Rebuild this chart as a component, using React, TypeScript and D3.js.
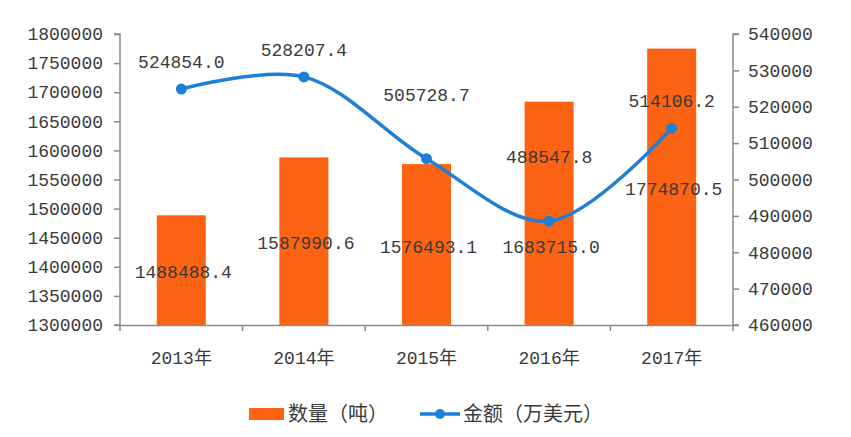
import React, { useRef, useEffect } from 'react';
import * as d3 from 'd3';

const years = ['2013年', '2014年', '2015年', '2016年', '2017年'];
const quantity = [1488488.4, 1587990.6, 1576493.1, 1683715.0, 1774870.5];
const amount = [524854.0, 528207.4, 505728.7, 488547.8, 514106.2];
const leftTicks = [1300000, 1350000, 1400000, 1450000, 1500000, 1550000, 1600000, 1650000, 1700000, 1750000, 1800000];
const rightTicks = [460000, 470000, 480000, 490000, 500000, 510000, 520000, 530000, 540000];

const W = 851;
const H = 437;
const margin = { top: 34, right: 118, bottom: 112, left: 120 };
const ORANGE = '#fc6414';
const BLUE = '#1e7fd6';
const AXIS = '#8a8a8a';
const TEXT = '#3a3a3a';
const FONT = "'Liberation Mono', 'Noto Sans CJK SC', monospace";
const CJK = "'Noto Sans CJK SC', sans-serif";

const App = () => {
  const svgRef = useRef<SVGSVGElement>(null);

  useEffect(() => {
    if (!svgRef.current) return;
    const svg = d3.select(svgRef.current);
    svg.selectAll('*').remove();

    const x0 = margin.left;
    const x1 = W - margin.right;
    const y0 = H - margin.bottom;
    const y1 = margin.top;

    const x = d3.scaleBand().domain(years).range([x0, x1]).paddingInner(0).paddingOuter(0);
    const yL = d3.scaleLinear().domain([1300000, 1800000]).range([y0, y1]);
    const yR = d3.scaleLinear().domain([460000, 540000]).range([y0, y1]);
    const cx = (i: number) => x(years[i])! + x.bandwidth() / 2;

    const g = svg.append('g');

    // bars
    const barW = x.bandwidth() * 0.4;
    g.selectAll('rect.bar')
      .data(quantity)
      .enter()
      .append('rect')
      .attr('class', 'bar')
      .attr('x', (d, i) => cx(i) - barW / 2)
      .attr('y', d => yL(d))
      .attr('width', barW)
      .attr('height', d => y0 - yL(d))
      .attr('fill', ORANGE);

    // axes
    const axL = g.append('g').attr('transform', `translate(${x0},0)`)
      .call(d3.axisLeft(yL).tickValues(leftTicks).tickSize(6).tickPadding(11).tickFormat(d => String(d)));
    const axR = g.append('g').attr('transform', `translate(${x1},0)`)
      .call(d3.axisRight(yR).tickValues(rightTicks).tickSize(6).tickPadding(9).tickFormat(d => String(d)));
    const axB = g.append('g').attr('transform', `translate(0,${y0})`)
      .call(d3.axisBottom(x).tickSize(0).tickPadding(26));
    g.selectAll('line.cat')
      .data(d3.range(years.length + 1))
      .enter()
      .append('line')
      .attr('x1', i => x0 + i * x.bandwidth())
      .attr('x2', i => x0 + i * x.bandwidth())
      .attr('y1', y0)
      .attr('y2', y0 + 6)
      .attr('stroke', AXIS)
      .attr('stroke-width', 1.5);

    [axL, axR, axB].forEach(ax => {
      ax.selectAll('path').attr('stroke', AXIS).attr('stroke-width', 1.5);
      ax.selectAll('line').attr('stroke', AXIS).attr('stroke-width', 1.5);
      ax.selectAll('text').attr('fill', TEXT).attr('font-family', FONT).attr('font-size', 18);
    });
    axL.select('path').attr('d', `M-6,${y0}H0V${y1}H-6`);
    axR.select('path').attr('d', `M6,${y0}H0V${y1}H6`);

    // line
    const pts: [number, number][] = amount.map((d, i) => [cx(i), yR(d)]);
    g.append('path')
      .attr('d', d3.line().curve(d3.curveCatmullRom.alpha(0.5))(pts))
      .attr('fill', 'none')
      .attr('stroke', BLUE)
      .attr('stroke-width', 3.5);
    g.selectAll('circle.pt')
      .data(pts)
      .enter()
      .append('circle')
      .attr('cx', d => d[0])
      .attr('cy', d => d[1])
      .attr('r', 5.5)
      .attr('fill', BLUE);

    // bar labels (2016 label nudged down in the original to clear the line)
    g.selectAll('text.blabel')
      .data(quantity)
      .enter()
      .append('text')
      .attr('x', (d, i) => cx(i) + 2)
      .attr('y', (d, i) => (i === 3 ? yL(d) + 145 : (yL(d) + y0) / 2 + 2))
      .attr('dy', '0.35em')
      .attr('text-anchor', 'middle')
      .attr('font-family', FONT)
      .attr('font-size', 18)
      .attr('fill', TEXT)
      .text(d => d.toFixed(1));

    // line labels (2015 and 2016 sit higher in the original)
    g.selectAll('text.llabel')
      .data(amount)
      .enter()
      .append('text')
      .attr('x', (d, i) => cx(i))
      .attr('y', (d, i) => yR(d) - (i === 2 || i === 3 ? 64 : 27))
      .attr('dy', '0.35em')
      .attr('text-anchor', 'middle')
      .attr('font-family', FONT)
      .attr('font-size', 18)
      .attr('fill', TEXT)
      .text(d => d.toFixed(1));

    // legend
    const lg = g.append('g').attr('transform', 'translate(0,414)');
    lg.append('rect').attr('x', 249).attr('y', -6).attr('width', 35).attr('height', 12).attr('fill', ORANGE);
    lg.append('text').attr('x', 288).attr('y', 0).attr('dy', '0.35em')
      .attr('font-family', CJK).attr('font-size', 20).attr('fill', TEXT).text('数量（吨）');
    lg.append('line').attr('x1', 420).attr('x2', 460).attr('y1', 0).attr('y2', 0)
      .attr('stroke', BLUE).attr('stroke-width', 3.5);
    lg.append('circle').attr('cx', 440).attr('cy', 0).attr('r', 5).attr('fill', BLUE);
    lg.append('text').attr('x', 463).attr('y', 0).attr('dy', '0.35em')
      .attr('font-family', CJK).attr('font-size', 20).attr('fill', TEXT).text('金额（万美元）');
  }, []);

  return (
    <svg
      ref={svgRef}
      width={W}
      height={H}
      style={{ position: 'absolute', left: 0, top: 0, background: '#fff' }}
    />
  );
};

export default App;
